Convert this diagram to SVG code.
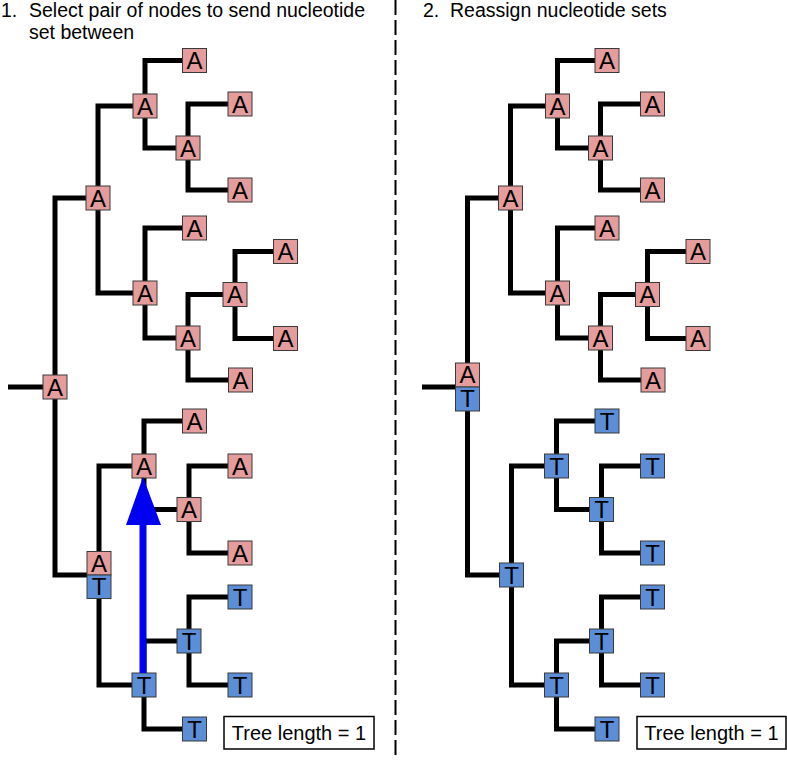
<svg xmlns="http://www.w3.org/2000/svg" width="787" height="760" viewBox="0 0 787 760">
<style>
.hdr{font-family:"Liberation Sans",Arial,sans-serif;font-size:19.5px;fill:#000}
.len{font-family:"Liberation Sans",Arial,sans-serif;font-size:20px;fill:#000;text-anchor:middle}
.ln{fill:none;stroke:#000;stroke-width:5;stroke-linejoin:miter;stroke-linecap:butt}
.a rect{fill:#E59C9C;stroke:#3a3a3a;stroke-width:1}
.t rect{fill:#5B8ED6;stroke:#3a3a3a;stroke-width:1}
.nd text{font-family:"Liberation Sans",Arial,sans-serif;font-size:24px;text-anchor:middle;fill:#000}
.box{fill:#fff;stroke:#000;stroke-width:1.5}
</style>
<rect width="787" height="760" fill="#fff"/>
<g id="headers">
<text class="hdr" x="1" y="17">1.</text>
<text class="hdr" x="29" y="17">Select pair of nodes to send nucleotide</text>
<text class="hdr" x="29" y="39">set between</text>
<text class="hdr" x="423" y="17">2.</text>
<text class="hdr" x="450" y="17">Reassign nucleotide sets</text>
</g>
<line x1="395.5" y1="0" x2="395.5" y2="760" stroke="#000" stroke-width="2" stroke-dasharray="15 5"/>
<g id="connectors">
<path id="left-edges" class="ln" d="M8 387H55M98 198H55V575H99M145 106H98V293H145M194.5 60.5H145V148H188M240 104H188V190H240M194.5 228H145V338H188M235 294.5H188V380H240.5M285.5 251.5H235V338.5H285.5M144 466H99V685H144M194.5 421H144V509.5H189M240 466H189V553H240M189 641H144V729H194.5M240 597H189V685H240"/>
<path id="right-edges" class="ln" transform="translate(412.5 0)" d="M9.5 387H55M98 198H55V575H99M145 106H98V293H145M194.5 60.5H145V148H188M240 104H188V190H240M194.5 228H145V338H188M235 294.5H188V380H240.5M285.5 251.5H235V338.5H285.5M144 466H99V685H144M194.5 421H144V509.5H189M240 466H189V553H240M189 641H144V729H194.5M240 597H189V685H240"/>
</g>
<g id="left-tree">
<g id="L-root" class="nd a"><rect x="43" y="375" width="24" height="24"/><text x="55" y="395.5">A</text></g>
<g id="L-n1" class="nd a"><rect x="86" y="186" width="24" height="24"/><text x="98" y="206.5">A</text></g>
<g id="L-n2" class="nd a"><rect x="133" y="94" width="24" height="24"/><text x="145" y="114.5">A</text></g>
<g id="L-leaf1" class="nd a"><rect x="182.5" y="48.5" width="24" height="24"/><text x="194.5" y="69">A</text></g>
<g id="L-n3" class="nd a"><rect x="176" y="136" width="24" height="24"/><text x="188" y="156.5">A</text></g>
<g id="L-leaf2" class="nd a"><rect x="228" y="92" width="24" height="24"/><text x="240" y="112.5">A</text></g>
<g id="L-leaf3" class="nd a"><rect x="228" y="178" width="24" height="24"/><text x="240" y="198.5">A</text></g>
<g id="L-n4" class="nd a"><rect x="133" y="281" width="24" height="24"/><text x="145" y="301.5">A</text></g>
<g id="L-leaf4" class="nd a"><rect x="182.5" y="216" width="24" height="24"/><text x="194.5" y="236.5">A</text></g>
<g id="L-n5" class="nd a"><rect x="176" y="326" width="24" height="24"/><text x="188" y="346.5">A</text></g>
<g id="L-n6" class="nd a"><rect x="223" y="282.5" width="24" height="24"/><text x="235" y="303">A</text></g>
<g id="L-leaf5" class="nd a"><rect x="273.5" y="239.5" width="24" height="24"/><text x="285.5" y="260">A</text></g>
<g id="L-leaf6" class="nd a"><rect x="273.5" y="326.5" width="24" height="24"/><text x="285.5" y="347">A</text></g>
<g id="L-leaf7" class="nd a"><rect x="228.5" y="368" width="24" height="24"/><text x="240.5" y="388.5">A</text></g>
<g id="L-n7">
<g class="nd a"><rect x="87" y="551.5" width="24" height="23.5"/><text x="99" y="571.5">A</text></g>
<g class="nd t"><rect x="87" y="575" width="24" height="23.5"/><text x="99" y="595">T</text></g>
</g>
<g id="L-n8" class="nd a"><rect x="132" y="454" width="24" height="24"/><text x="144" y="474.5">A</text></g>
<g id="L-leaf8" class="nd a"><rect x="182.5" y="409" width="24" height="24"/><text x="194.5" y="429.5">A</text></g>
<g id="L-n9" class="nd a"><rect x="177" y="497.5" width="24" height="24"/><text x="189" y="518">A</text></g>
<g id="L-leaf9" class="nd a"><rect x="228" y="454" width="24" height="24"/><text x="240" y="474.5">A</text></g>
<g id="L-leaf10" class="nd a"><rect x="228" y="541" width="24" height="24"/><text x="240" y="561.5">A</text></g>
<g id="L-n10" class="nd t"><rect x="132" y="673" width="24" height="24"/><text x="144" y="693.5">T</text></g>
<g id="L-n11" class="nd t"><rect x="177" y="629" width="24" height="24"/><text x="189" y="649.5">T</text></g>
<g id="L-leaf11" class="nd t"><rect x="228" y="585" width="24" height="24"/><text x="240" y="605.5">T</text></g>
<g id="L-leaf12" class="nd t"><rect x="228" y="673" width="24" height="24"/><text x="240" y="693.5">T</text></g>
<g id="L-leaf13" class="nd t"><rect x="182.5" y="717" width="24" height="24"/><text x="194.5" y="737.5">T</text></g>
</g>
<g id="arrow" fill="#0000F2">
<rect x="139.5" y="522" width="7" height="151"/>
<polygon points="143,477 126,525 161,525"/>
</g>
<g id="right-tree" transform="translate(412.5 0)">
<g id="R-root">
<g class="nd a"><rect x="43" y="363" width="24" height="24"/><text x="55" y="383">A</text></g>
<g class="nd t"><rect x="43" y="387" width="24" height="24"/><text x="55" y="407">T</text></g>
</g>
<g id="R-n1" class="nd a"><rect x="86" y="186" width="24" height="24"/><text x="98" y="206.5">A</text></g>
<g id="R-n2" class="nd a"><rect x="133" y="94" width="24" height="24"/><text x="145" y="114.5">A</text></g>
<g id="R-leaf1" class="nd a"><rect x="182.5" y="48.5" width="24" height="24"/><text x="194.5" y="69">A</text></g>
<g id="R-n3" class="nd a"><rect x="176" y="136" width="24" height="24"/><text x="188" y="156.5">A</text></g>
<g id="R-leaf2" class="nd a"><rect x="228" y="92" width="24" height="24"/><text x="240" y="112.5">A</text></g>
<g id="R-leaf3" class="nd a"><rect x="228" y="178" width="24" height="24"/><text x="240" y="198.5">A</text></g>
<g id="R-n4" class="nd a"><rect x="133" y="281" width="24" height="24"/><text x="145" y="301.5">A</text></g>
<g id="R-leaf4" class="nd a"><rect x="182.5" y="216" width="24" height="24"/><text x="194.5" y="236.5">A</text></g>
<g id="R-n5" class="nd a"><rect x="176" y="326" width="24" height="24"/><text x="188" y="346.5">A</text></g>
<g id="R-n6" class="nd a"><rect x="223" y="282.5" width="24" height="24"/><text x="235" y="303">A</text></g>
<g id="R-leaf5" class="nd a"><rect x="273.5" y="239.5" width="24" height="24"/><text x="285.5" y="260">A</text></g>
<g id="R-leaf6" class="nd a"><rect x="273.5" y="326.5" width="24" height="24"/><text x="285.5" y="347">A</text></g>
<g id="R-leaf7" class="nd a"><rect x="228.5" y="368" width="24" height="24"/><text x="240.5" y="388.5">A</text></g>
<g id="R-n7" class="nd t"><rect x="87" y="563" width="24" height="24"/><text x="99" y="583.5">T</text></g>
<g id="R-n8" class="nd t"><rect x="132" y="454" width="24" height="24"/><text x="144" y="474.5">T</text></g>
<g id="R-leaf8" class="nd t"><rect x="182.5" y="409" width="24" height="24"/><text x="194.5" y="429.5">T</text></g>
<g id="R-n9" class="nd t"><rect x="177" y="497.5" width="24" height="24"/><text x="189" y="518">T</text></g>
<g id="R-leaf9" class="nd t"><rect x="228" y="454" width="24" height="24"/><text x="240" y="474.5">T</text></g>
<g id="R-leaf10" class="nd t"><rect x="228" y="541" width="24" height="24"/><text x="240" y="561.5">T</text></g>
<g id="R-n10" class="nd t"><rect x="132" y="673" width="24" height="24"/><text x="144" y="693.5">T</text></g>
<g id="R-n11" class="nd t"><rect x="177" y="629" width="24" height="24"/><text x="189" y="649.5">T</text></g>
<g id="R-leaf11" class="nd t"><rect x="228" y="585" width="24" height="24"/><text x="240" y="605.5">T</text></g>
<g id="R-leaf12" class="nd t"><rect x="228" y="673" width="24" height="24"/><text x="240" y="693.5">T</text></g>
<g id="R-leaf13" class="nd t"><rect x="182.5" y="717" width="24" height="24"/><text x="194.5" y="737.5">T</text></g>
</g>
<g id="len-left"><rect class="box" x="224" y="716.5" width="150" height="32.5"/><text class="len" x="299" y="740">Tree length = 1</text></g>
<g id="len-right"><rect class="box" x="637" y="716.5" width="149" height="32.5"/><text class="len" x="711.5" y="740">Tree length = 1</text></g>
</svg>
